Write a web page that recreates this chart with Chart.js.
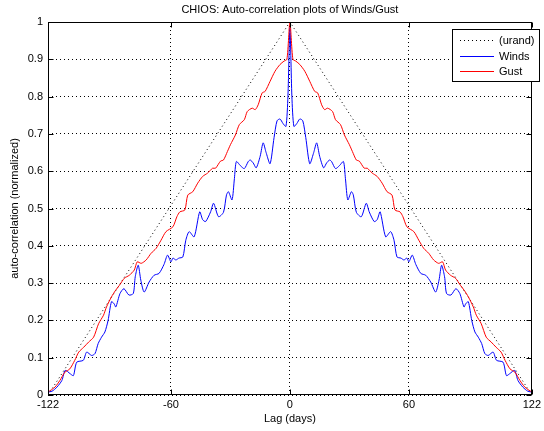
<!DOCTYPE html>
<html><head><meta charset="utf-8">
<script src="https://cdn.jsdelivr.net/npm/chart.js@4"></script>
<style>html,body{margin:0;padding:0;background:#fff;}canvas{display:block;}</style>
</head><body>
<canvas id="c" width="544" height="431"></canvas>
<script>
const titleText = 'CHIOS: Auto-correlation plots of Winds/Gust';
const xLabel = 'Lag (days)';
const yLabel = 'auto-correlation (normalized)';
const xTicks = [-122, -60, 0, 60, 122];
const yTicks = [0, 0.1, 0.2, 0.3, 0.4, 0.5, 0.6, 0.7, 0.8, 0.9, 1];
const seriesNames = ['(urand)', 'Winds', 'Gust'];
const seriesColors = ['#000000', '#0000ff', '#ff0000'];
const seriesDash = [[1, 3], [], []];

const urandLags = [-122, 0, 122];
const urandVals = [0, 1, 0];

const windsLags = [-122,-120,-117.5,-115,-113.3,-110.8,-109.2,-107.5,-104.2,-102.5,
 -100,-98.3,-96.7,-95,-93.3,-91.7,-90,-88.7,-87.8,-85.7,
 -83.7,-81.2,-79,-78,-76.5,-75.2,-73.5,-71,-68.5,-66,
 -63.5,-61.7,-60,-59,-57.5,-56,-54,-52.5,-50.8,-48.3,
 -45.5,-44,-42.5,-40,-38.5,-36,-33.5,-32,-31,-29.2,
 -28,-27,-25,-23,-21,-20,-18.5,-17,-15,-13.5,
 -12,-10,-8,-6.5,-5,-3.5,-2,-1,
 0,1,2,3.5,5,6.5,8,10,12,13.5,
 15,17,18.5,20,21,23,25,27,28,29.2,
 31,32,33.5,36,38.5,40,42.5,44,45.5,48.3,
 50.8,52.5,54,56,57.5,59,60,61.7,63.5,66,
 68.5,71,73.5,75.2,76.5,78,79,81.2,83.7,85.7,
 87.8,88.7,90,91.7,93.3,95,96.7,98.3,100,102.5,
 104.2,107.5,109.2,110.8,113.3,115,117.5,120,122];
const windsVals = [0.008,0.010,0.021,0.039,0.066,0.057,0.052,0.088,0.093,0.115,
 0.106,0.111,0.138,0.155,0.169,0.2,0.25,0.245,0.236,0.272,
 0.285,0.268,0.272,0.317,0.348,0.308,0.276,0.303,0.321,0.326,
 0.35,0.375,0.357,0.367,0.362,0.367,0.37,0.415,0.438,0.424,
 0.491,0.47,0.465,0.491,0.514,0.478,0.49,0.536,0.545,0.523,
 0.58,0.626,0.615,0.607,0.626,0.63,0.622,0.609,0.64,0.676,
 0.65,0.62,0.69,0.735,0.74,0.728,0.72,0.80,
 0.985,0.80,0.72,0.728,0.74,0.735,0.69,0.62,0.65,0.676,
 0.64,0.609,0.622,0.63,0.626,0.607,0.615,0.626,0.58,0.523,
 0.545,0.536,0.49,0.478,0.514,0.491,0.465,0.47,0.491,0.424,
 0.438,0.415,0.37,0.367,0.362,0.367,0.357,0.375,0.35,0.326,
 0.321,0.303,0.276,0.308,0.348,0.317,0.272,0.268,0.285,0.272,
 0.236,0.245,0.25,0.2,0.169,0.155,0.138,0.111,0.106,0.115,
 0.093,0.088,0.052,0.057,0.066,0.039,0.021,0.010,0.008];

const gustLags = [-122,-118.5,-116,-113.5,-111,-108.5,-106.5,-104,-101.5,-99,
 -96.5,-94,-92.5,-90,-88,-86,-83.5,-81,-78.5,-77,
 -75,-72.5,-70,-67.5,-65,-62.5,-59,-57,-55.5,-53,
 -51.5,-49,-46.5,-44,-41.5,-39,-37.5,-35,-33.5,-31.5,
 -30,-27.5,-25.5,-23,-21.5,-19,-17.5,-16,-14,-12.5,
 -10,-7.5,-5,-3,-1.5,
 0,1.5,3,5,7.5,10,12.5,14,16,17.5,
 19,21.5,23,25.5,27.5,30,31.5,33.5,35,37.5,
 39,41.5,44,46.5,49,51.5,53,55.5,57,59,
 62.5,65,67.5,70,72.5,75,77,78.5,81,83.5,
 86,88,90,92.5,94,96.5,99,101.5,104,106.5,
 108.5,111,113.5,116,118.5,122];
const gustVals = [0.008,0.021,0.039,0.061,0.070,0.093,0.115,0.128,0.142,0.155,
 0.191,0.214,0.236,0.263,0.28,0.294,0.313,0.321,0.335,0.357,
 0.353,0.362,0.380,0.393,0.415,0.438,0.451,0.478,0.491,0.496,
 0.536,0.545,0.568,0.586,0.595,0.608,0.608,0.627,0.630,0.653,
 0.671,0.697,0.725,0.738,0.76,0.769,0.765,0.778,0.81,0.814,
 0.841,0.868,0.886,0.895,0.90,
 1.0,0.90,0.895,0.886,0.868,0.841,0.814,0.81,0.778,0.765,
 0.769,0.76,0.738,0.725,0.697,0.671,0.653,0.630,0.627,0.608,
 0.608,0.595,0.586,0.568,0.545,0.536,0.496,0.491,0.478,0.451,
 0.438,0.415,0.393,0.380,0.362,0.353,0.357,0.335,0.321,0.313,
 0.294,0.28,0.263,0.236,0.214,0.191,0.155,0.142,0.128,0.115,
 0.093,0.070,0.061,0.039,0.021,0.008];

const zip = (xs, ys) => xs.map((x, i) => ({x: x, y: ys[i]}));
const FONT = '"Liberation Sans", Arial, Helvetica, sans-serif';

const framePlugin = {
  id: 'frame',
  afterDraw(chart) {
    const ctx = chart.ctx, a = chart.chartArea, xs = chart.scales.x, ys = chart.scales.y;
    ctx.save();
    ctx.strokeStyle = '#000';
    ctx.lineWidth = 1;
    ctx.setLineDash([]);
    const L = Math.round(a.left) + 0.5, R = Math.round(a.right) - 0.5;
    const T = Math.round(a.top) + 0.5, B = Math.round(a.bottom) - 0.5;
    ctx.strokeRect(L, T, R - L, B - T);
    ctx.beginPath();
    xTicks.forEach(v => {
      const p = Math.round(xs.getPixelForValue(v)) + 0.5;
      ctx.moveTo(p, B); ctx.lineTo(p, B - 5);
      ctx.moveTo(p, T); ctx.lineTo(p, T + 5);
    });
    yTicks.forEach(v => {
      const p = Math.round(ys.getPixelForValue(v)) + 0.5;
      ctx.moveTo(L, p); ctx.lineTo(L + 5, p);
      ctx.moveTo(R, p); ctx.lineTo(R - 5, p);
    });
    ctx.stroke();
    // title
    ctx.fillStyle = '#000';
    ctx.font = '11px ' + FONT;
    ctx.textAlign = 'center';
    ctx.textBaseline = 'middle';
    ctx.fillText(titleText, (a.left + a.right) / 2, 10);
    // legend
    const lx = 452.5, ly = 29.5, lw = 87, lh = 52;
    ctx.fillStyle = '#fff';
    ctx.fillRect(lx, ly, lw, lh);
    ctx.strokeStyle = '#000';
    ctx.strokeRect(lx, ly, lw, lh);
    const rows = [40, 56, 71];
    seriesNames.forEach((name, i) => {
      ctx.fillStyle = seriesColors[i];
      if (seriesDash[i].length) {
        for (let px = 460; px < 494; px += 4) ctx.fillRect(px, rows[i], 1, 1);
      } else {
        ctx.fillRect(460, rows[i], 34, 1);
      }
      ctx.fillStyle = '#000';
      ctx.textAlign = 'left';
      ctx.textBaseline = 'middle';
      ctx.fillText(name, 499, rows[i] + 0.5);
    });
    ctx.restore();
  }
};

new Chart(document.getElementById('c'), {
  type: 'line',
  data: {
    datasets: [
      {label: seriesNames[0], data: zip(urandLags, urandVals), borderColor: seriesColors[0], borderDash: seriesDash[0], borderWidth: 1, tension: 0, order: 2},
      {label: seriesNames[1], data: zip(windsLags, windsVals), borderColor: seriesColors[1], borderWidth: 1, tension: 0.25, order: 1},
      {label: seriesNames[2], data: zip(gustLags, gustVals), borderColor: seriesColors[2], borderWidth: 1, tension: 0.25, order: 0}
    ]
  },
  options: {
    responsive: false,
    animation: false,
    devicePixelRatio: 1,
    elements: {point: {radius: 0}},
    layout: {padding: {left: 0, top: 22, right: 9, bottom: 0}},
    plugins: {legend: {display: false}, tooltip: {enabled: false}, title: {display: false}},
    scales: {
      x: {
        type: 'linear', min: -122, max: 122,
        afterBuildTicks: s => { s.ticks = xTicks.map(v => ({value: v})); },
        afterFit: s => { s.height = 36; },
        ticks: {color: '#000', font: {family: FONT, size: 11}, padding: 3, maxRotation: 0, autoSkip: false},
        grid: {color: '#000', lineWidth: 1, drawTicks: false},
        border: {display: false, dash: [1, 3]},
        title: {display: true, text: xLabel, color: '#000', font: {family: FONT, size: 11}, padding: {top: 0, bottom: 5}}
      },
      y: {
        min: 0, max: 1,
        afterBuildTicks: s => { s.ticks = yTicks.map(v => ({value: v})); },
        afterFit: s => { s.width = 48; },
        ticks: {color: '#000', font: {family: FONT, size: 11}, padding: 5, autoSkip: false,
                callback: v => String(Math.round(v * 10) / 10)},
        grid: {color: '#000', lineWidth: 1, drawTicks: false},
        border: {display: false, dash: [1, 3]},
        title: {display: true, text: yLabel, color: '#000', font: {family: FONT, size: 11}, padding: {top: 8, bottom: 0}}
      }
    }
  },
  plugins: [framePlugin]
});
</script>
</body></html>
